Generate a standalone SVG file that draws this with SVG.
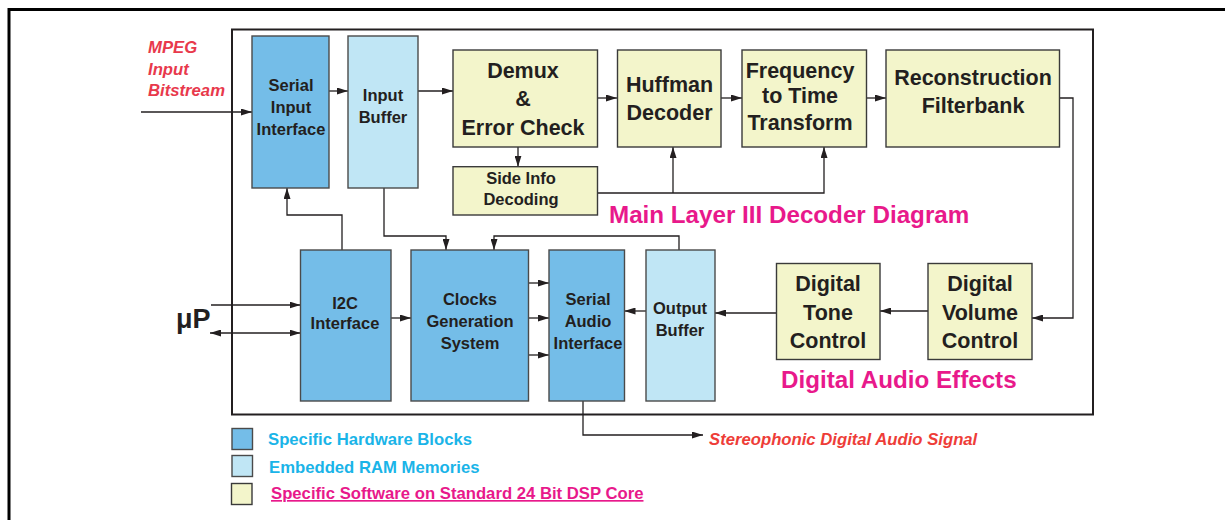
<svg xmlns="http://www.w3.org/2000/svg" width="1225" height="520" viewBox="0 0 1225 520">
<style>
  text{font-family:"Liberation Sans",Arial,sans-serif;font-weight:bold}
  .hw{fill:#74bde8;stroke:#4a4a4a;stroke-width:1.4}
  .ram{fill:#c0e6f5;stroke:#4a4a4a;stroke-width:1.4}
  .sw{fill:#f3f5cb;stroke:#3a3a3a;stroke-width:1.4}
  .lbl{fill:#231f20;text-anchor:middle}
  .s{font-size:16.5px}
  .b{font-size:21.5px}
  .c{fill:none;stroke:#231f20;stroke-width:1.3}
  .a{marker-end:url(#ah)}
  .red{fill:#e8394c;font-style:italic;font-size:16.7px}
  .pink{fill:#e8198b;font-size:24.2px}
  .leg{font-size:16.7px}
</style>
<defs>
  <marker id="ah" markerUnits="userSpaceOnUse" markerWidth="11" markerHeight="7" refX="11" refY="3.5" orient="auto-start-reverse">
    <path d="M0,0 L11,3.5 L0,7 z" fill="#231f20"/>
  </marker>
</defs>
<rect width="1225" height="520" fill="#ffffff"/>
<!-- outer frame -->
<path d="M9,520 V9.5 H1225" fill="none" stroke="#000" stroke-width="3"/>
<!-- inner frame -->
<rect x="232" y="29.5" width="861" height="385" fill="none" stroke="#231f20" stroke-width="2"/>

<g id="connectors">
  <path class="c a" d="M141,112 H252"/>
  <path class="c a" d="M329,91 H348"/>
  <path class="c a" d="M418,91 H453"/>
  <path class="c a" d="M597,98 H617"/>
  <path class="c a" d="M721,98 H742"/>
  <path class="c a" d="M866,98 H886"/>
  <path class="c a" d="M1059,98 H1073 V318 H1032"/>
  <path class="c a" d="M928,311 H880"/>
  <path class="c a" d="M776,313 H715"/>
  <path class="c a" d="M646,311 H624.5"/>
  <path class="c a" d="M518,147 V166.7"/>
  <path class="c a" d="M597,193 H824 V147"/>
  <path class="c a" d="M673,193 V147"/>
  <path class="c a" d="M384,188 V236 H446 V250"/>
  <path class="c a" d="M679,250 V236 H494 V250"/>
  <path class="c a" d="M342,250 V215 H287 V188"/>
  <path class="c a" d="M211,305 H300.5"/>
  <path class="c a" d="M210,333 H300.5" marker-start="url(#ah)"/>
  <path class="c a" d="M391,318 H411"/>
  <path class="c a" d="M528,283 H549"/>
  <path class="c a" d="M528,318 H549"/>
  <path class="c a" d="M528,355 H549"/>
  <path class="c a" d="M583,401 V435 H703"/>
</g>

<g id="serial-input">
  <rect class="hw" x="252" y="36" width="77" height="152"/>
  <text class="lbl s" x="291" y="91">Serial</text>
  <text class="lbl s" x="291" y="113">Input</text>
  <text class="lbl s" x="291" y="135">Interface</text>
</g>
<g id="input-buffer">
  <rect class="ram" x="348" y="36" width="70" height="152"/>
  <text class="lbl s" x="383" y="101">Input</text>
  <text class="lbl s" x="383" y="123">Buffer</text>
</g>
<g id="demux">
  <rect class="sw" x="453" y="50" width="144.5" height="97"/>
  <text class="lbl b" x="523" y="78">Demux</text>
  <text class="lbl b" x="523" y="106">&amp;</text>
  <text class="lbl b" x="523" y="135">Error Check</text>
</g>
<g id="huffman">
  <rect class="sw" x="617.5" y="50" width="103.5" height="97"/>
  <text class="lbl b" x="669.5" y="92">Huffman</text>
  <text class="lbl b" x="669.5" y="119.5">Decoder</text>
</g>
<g id="freq">
  <rect class="sw" x="742" y="50" width="124.5" height="97"/>
  <text class="lbl b" x="800" y="78">Frequency</text>
  <text class="lbl b" x="800" y="103">to Time</text>
  <text class="lbl b" x="800" y="130">Transform</text>
</g>
<g id="recon">
  <rect class="sw" x="886" y="50" width="173.5" height="97"/>
  <text class="lbl b" x="973" y="85">Reconstruction</text>
  <text class="lbl b" x="973" y="113">Filterbank</text>
</g>
<g id="side-info">
  <rect class="sw" x="453" y="166.7" width="144.5" height="48.3"/>
  <text class="lbl s" x="521" y="184">Side Info</text>
  <text class="lbl s" x="521" y="205">Decoding</text>
</g>
<g id="i2c">
  <rect class="hw" x="300.5" y="250" width="90.5" height="151"/>
  <text class="lbl s" x="345" y="308.5">I2C</text>
  <text class="lbl s" x="345" y="329">Interface</text>
</g>
<g id="clocks">
  <rect class="hw" x="411" y="250" width="117.5" height="151"/>
  <text class="lbl s" x="470" y="305">Clocks</text>
  <text class="lbl s" x="470" y="327">Generation</text>
  <text class="lbl s" x="470" y="349">System</text>
</g>
<g id="serial-audio">
  <rect class="hw" x="549" y="250" width="75.5" height="151"/>
  <text class="lbl s" x="588" y="305">Serial</text>
  <text class="lbl s" x="588" y="327">Audio</text>
  <text class="lbl s" x="588" y="348.5">Interface</text>
</g>
<g id="output-buffer">
  <rect class="ram" x="646" y="250" width="69" height="151"/>
  <text class="lbl s" x="680" y="314">Output</text>
  <text class="lbl s" x="680" y="336">Buffer</text>
</g>
<g id="tone">
  <rect class="sw" x="776.5" y="263.5" width="103.5" height="96"/>
  <text class="lbl b" x="828" y="291">Digital</text>
  <text class="lbl b" x="828" y="319.5">Tone</text>
  <text class="lbl b" x="828" y="347.5">Control</text>
</g>
<g id="volume">
  <rect class="sw" x="928" y="263.5" width="104" height="96"/>
  <text class="lbl b" x="980" y="291">Digital</text>
  <text class="lbl b" x="980" y="319.5">Volume</text>
  <text class="lbl b" x="980" y="347.5">Control</text>
</g>

<g id="labels">
  <text class="red" x="148" y="53">MPEG</text>
  <text class="red" x="148" y="75">Input</text>
  <text class="red" x="148" y="96">Bitstream</text>
  <text x="176" y="328" style="font-size:27px;fill:#231f20">μP</text>
  <text class="pink" x="609" y="223">Main Layer III Decoder Diagram</text>
  <text class="pink" x="781" y="388">Digital Audio Effects</text>
  <text class="red" x="709" y="444.5" style="fill:#ee3d38">Stereophonic Digital Audio Signal</text>
</g>

<g id="legend">
  <rect class="hw" x="232" y="428.5" width="20.5" height="21"/>
  <rect class="ram" x="232" y="455.5" width="20.5" height="21"/>
  <rect class="sw" x="231.5" y="483.5" width="20.5" height="21"/>
  <text class="leg" x="268" y="445" fill="#1ab4e8">Specific Hardware Blocks</text>
  <text class="leg" x="269" y="472.5" fill="#1ab4e8">Embedded RAM Memories</text>
  <text class="leg" x="271" y="499" fill="#e8198b" text-decoration="underline">Specific Software on Standard 24 Bit DSP Core</text>
</g>
</svg>
